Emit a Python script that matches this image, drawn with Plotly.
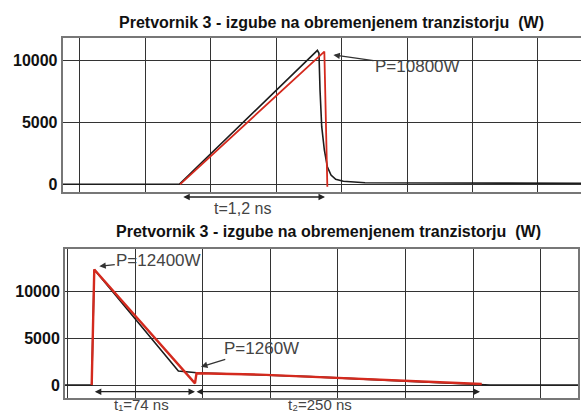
import plotly.graph_objects as go

W, H = 581, 414

# ---------------- data: panel 1 (time in ns, power in W) ----------------
t1_black = [-0.132, 0.759, 1.815, 1.827, 1.835, 1.848, 1.868, 1.891, 1.919, 1.955, 2.013, 2.179, 3.830]
p1_black = [0, 0, 10850, 10616, 7642, 4668, 2780, 1426, 754, 405, 243, 130, 80]
t1_red = [0.765, 1.868, 1.891]
p1_red = [0, 10750, -195]

# ---------------- data: panel 2 (time in ns, power in W) ----------------
t2_black = [-1.85, 17.9, 19.8, 82.0, 95.6, 142.4, 179.4, 250.4, 306.4, 312.5, 377.8]
p2_black = [0, 0, 12400, 1500, 1320, 1120, 900, 420, 110, 0, 0]
t2_red = [17.9, 19.8, 94.3, 95.4, 142.4, 179.4, 250.4, 306.4]
p2_red = [0, 12400, 180, 1260, 1120, 900, 420, 110]

y_ticks = [0, 5000, 10000]
y_ticktext = ["0", "5000", "10000"]
title_text = "Pretvornik 3 - izgube na obremenjenem tranzistorju  (W)"

BLACK = "#1c1c1c"
RED = "#d42a1e"
GRID = "#333333"
FRAME = "#777777"
FONT = "Liberation Sans, Arial, sans-serif"

fig = go.Figure()
fig.add_trace(go.Scatter(x=t1_black, y=p1_black, mode="lines",
                         line=dict(color=BLACK, width=1.6), xaxis="x", yaxis="y"))
fig.add_trace(go.Scatter(x=t1_red, y=p1_red, mode="lines",
                         line=dict(color=RED, width=1.8), xaxis="x", yaxis="y"))
fig.add_trace(go.Scatter(x=t2_black, y=p2_black, mode="lines",
                         line=dict(color=BLACK, width=1.6), xaxis="x2", yaxis="y2"))
fig.add_trace(go.Scatter(x=t2_red, y=p2_red, mode="lines",
                         line=dict(color=RED, width=2.4), xaxis="x2", yaxis="y2"))

def px_x(p):
    return p / W

def px_y(p):
    return 1 - p / H

tickfont = dict(family=FONT, size=16, color="#111", weight="bold")

common_x = dict(showgrid=True, gridcolor=GRID, gridwidth=1.2, zeroline=False,
                showticklabels=False, ticks="", showline=True, linecolor=FRAME,
                linewidth=2, mirror=True, fixedrange=True)
common_y = dict(showgrid=True, gridcolor=GRID, gridwidth=1.2, zeroline=False,
                tickvals=y_ticks, ticktext=y_ticktext, ticks="", showline=True,
                linecolor=FRAME, linewidth=2, tickfont=tickfont, fixedrange=True)

fig.update_layout(
    width=W, height=H,
    margin=dict(l=0, r=0, t=0, b=0),
    paper_bgcolor="white", plot_bgcolor="white",
    showlegend=False,
    xaxis=dict(common_x, domain=[px_x(62.7), 1.0], range=[-0.132, 3.83], dtick=0.5, tick0=0,
               anchor="y"),
    yaxis=dict(common_y, domain=[px_y(192.3), px_y(38.3)], range=[-648, 11830],
               mirror=False, anchor="x"),
    xaxis2=dict(common_x, domain=[px_x(65), px_x(578.3)], range=[-1.85, 377.8], dtick=50, tick0=0,
                anchor="y2"),
    yaxis2=dict(common_y, domain=[px_y(398.3), px_y(249.3)], range=[-1425, 14560],
                mirror=True, anchor="x2"),
)

ann_font = dict(family=FONT, size=17, color="#444")
dim_font = dict(family=FONT, size=16, color="#444")
low_font = dict(family=FONT, size=15, color="#444")
title_font = dict(family=FONT, size=16, color="#111", weight="bold")

annotations = [
    # titles
    dict(text=title_text, xref="paper", yref="paper", x=px_x(331.5), y=px_y(22.7),
         showarrow=False, font=title_font, xanchor="center", yanchor="middle"),
    dict(text=title_text, xref="paper", yref="paper", x=px_x(328), y=px_y(231.7),
         showarrow=False, font=title_font, xanchor="center", yanchor="middle"),
    # panel 1 peak label
    dict(text="P=10800W", x=1.937, y=10478, xref="x", yref="y", axref="x", ayref="y",
         ax=2.58, ay=9530, showarrow=True, arrowhead=2, arrowsize=1, arrowwidth=1.3,
         arrowcolor="#333", font=ann_font),
    # panel 1 dimension arrow
    dict(text="", x=1.873, y=px_y(197), xref="x", yref="paper", axref="x", ayref="pixel",
         ax=0.778, ay=0, showarrow=True, arrowhead=2, startarrowhead=2, arrowside="end+start",
         arrowsize=1, arrowwidth=1.3, arrowcolor="#222"),
    dict(text="t=1,2 ns", x=1.246, y=px_y(208), xref="x", yref="paper", showarrow=False,
         font=dim_font, yanchor="middle"),
    # panel 2 labels
    dict(text="P=12400W", x=23.5, y=12741, xref="x2", yref="y2", axref="x2", ayref="y2",
         ax=67.5, ay=13383, showarrow=True, arrowhead=2, arrowsize=1, arrowwidth=1.3,
         arrowcolor="#333", font=ann_font),
    dict(text="P=1260W", x=98.7, y=1959, xref="x2", yref="y2", axref="x2", ayref="y2",
         ax=143.5, ay=3929, showarrow=True, arrowhead=2, arrowsize=1, arrowwidth=1.3,
         arrowcolor="#333", font=ann_font),
    dict(text="", x=94.3, y=-717, xref="x2", yref="y2", axref="x2", ayref="y2",
         ax=19.1, ay=-717, showarrow=True, arrowhead=2, startarrowhead=2, arrowside="end+start",
         arrowsize=1, arrowwidth=1.3, arrowcolor="#222"),
    dict(text="", x=305.1, y=-717, xref="x2", yref="y2", axref="x2", ayref="y2",
         ax=94.3, ay=-717, showarrow=True, arrowhead=2, startarrowhead=2, arrowside="end+start",
         arrowsize=1, arrowwidth=1.3, arrowcolor="#222"),
    dict(text="t\u2081=74 ns", x=54.4, y=0.0, xref="x2", yref="paper",
         showarrow=False, font=low_font, yanchor="bottom", borderpad=0),
    dict(text="t\u2082=250 ns", x=186.8, y=0.0, xref="x2", yref="paper",
         showarrow=False, font=low_font, yanchor="bottom", borderpad=0),
]
fig.update_layout(annotations=annotations)

fig.write_html("out.html", config=dict(displayModeBar=False))
